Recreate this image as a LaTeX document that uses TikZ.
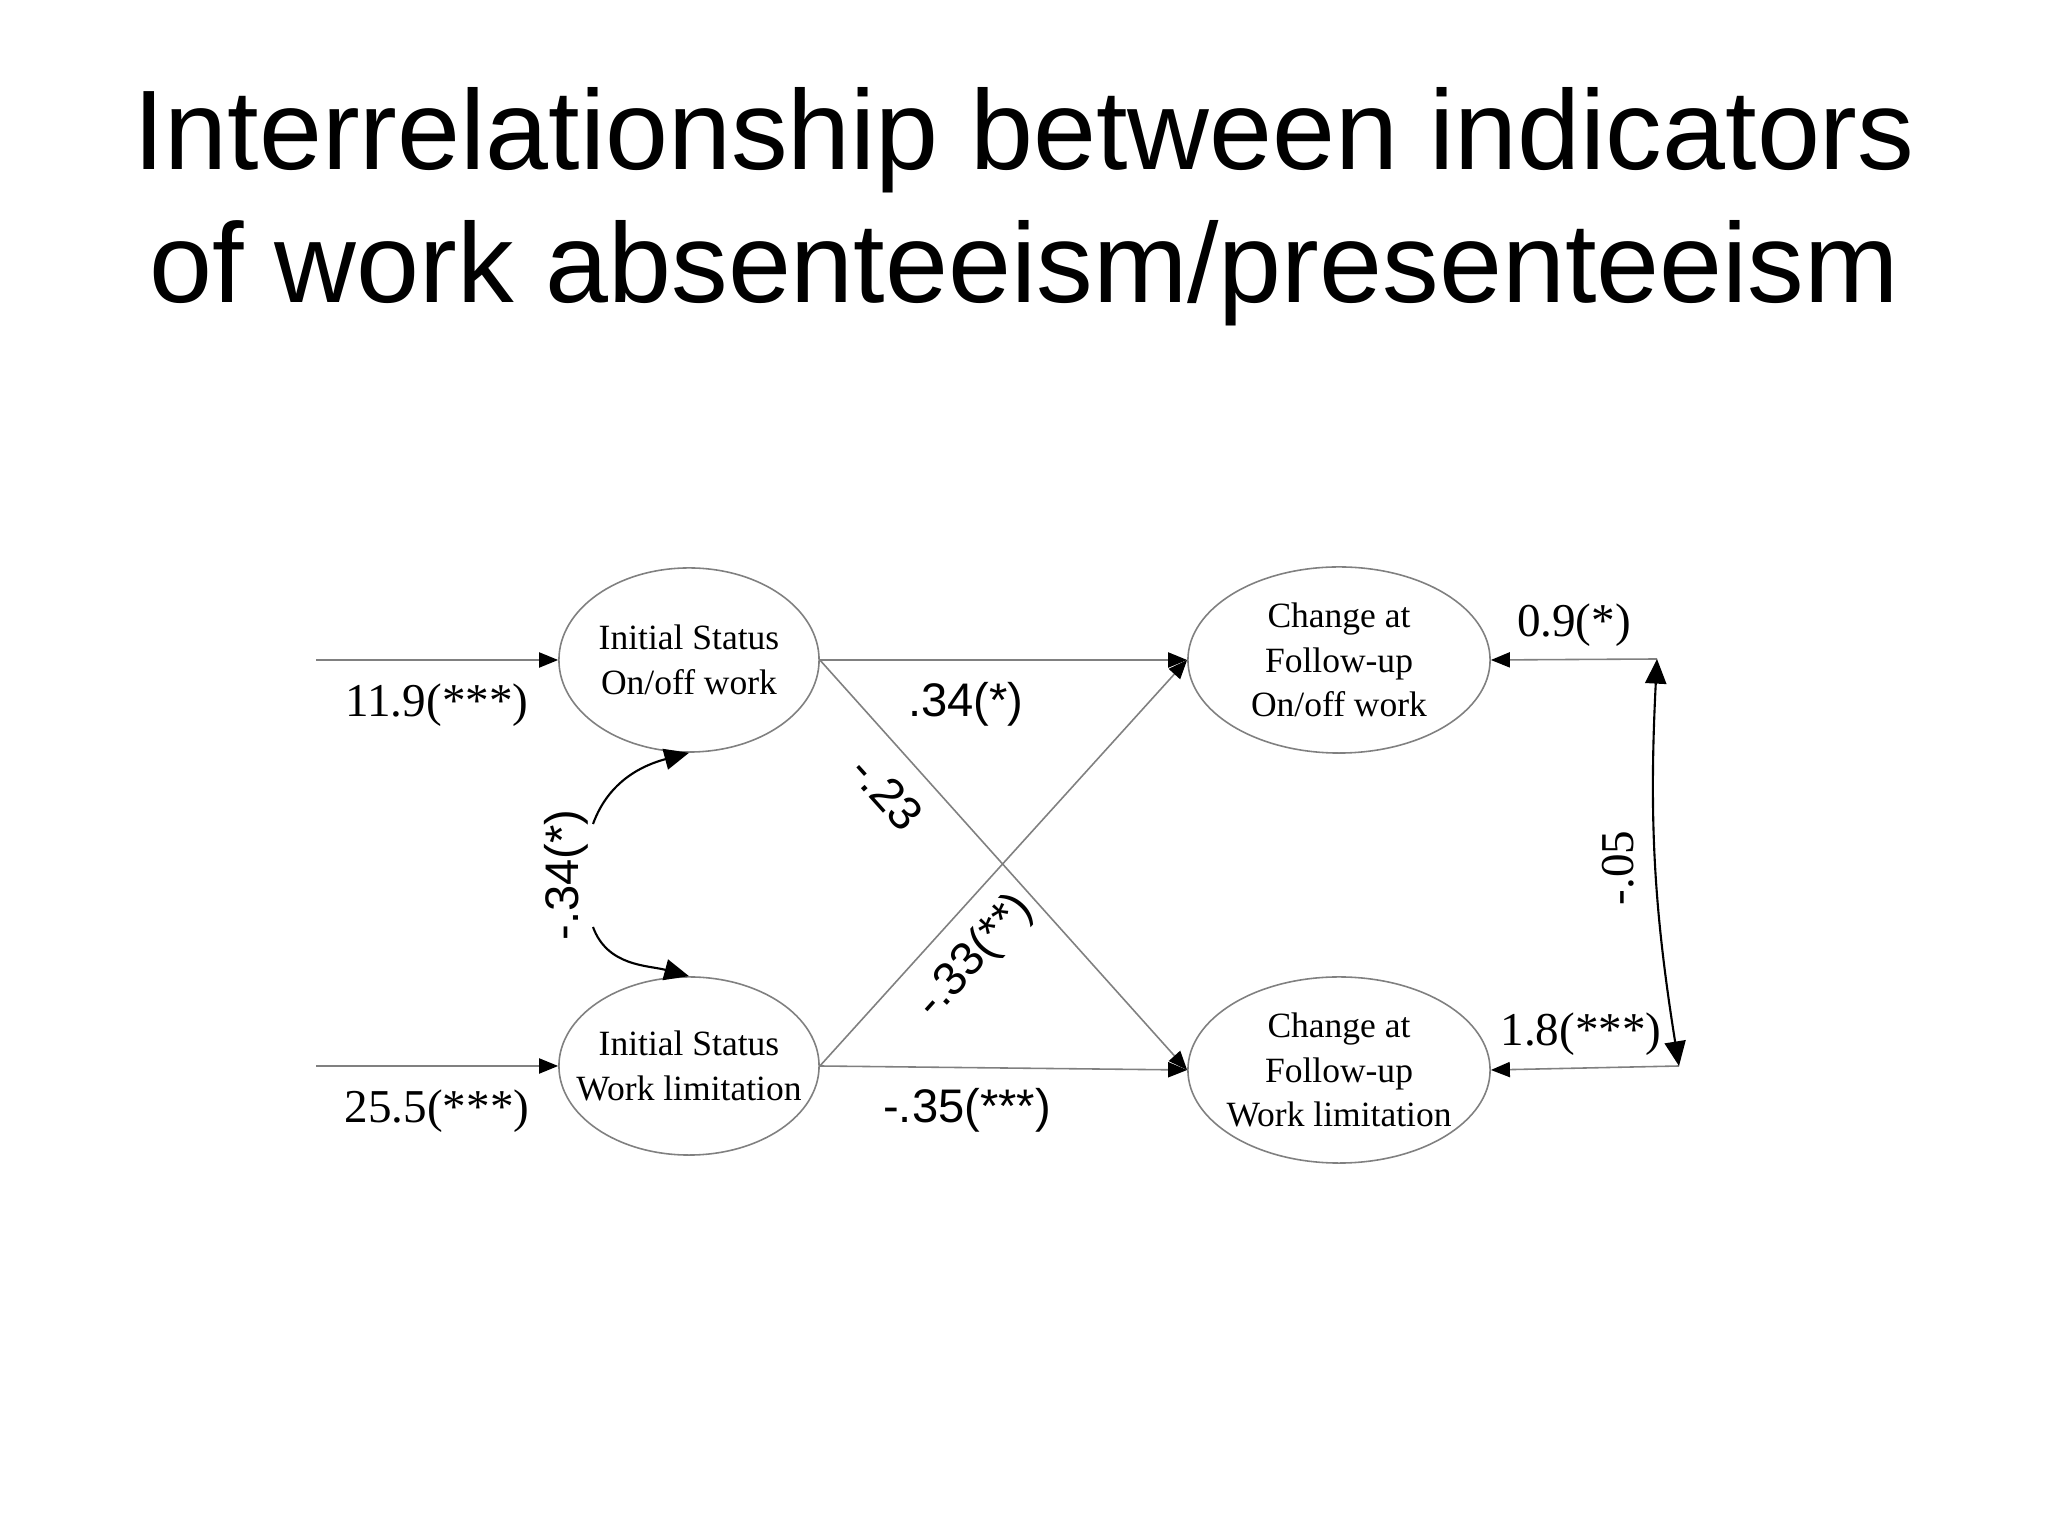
\documentclass[tikz,border=0pt]{standalone}
\usepackage{fontspec}
\setmainfont{Liberation Serif}
\setsansfont{Liberation Sans}
\usetikzlibrary{shapes.geometric,arrows.meta}

\begin{document}
\begin{tikzpicture}[x=0.01cm,y=0.01cm,
  latent/.style={ellipse,draw=gray,line width=0.45pt,inner sep=0pt},
  box/.style={align=center,font=\fontsize{10.1}{12.7}\selectfont},
  est/.style={font=\fontsize{13.4}{16}\selectfont,inner sep=0pt},
  estsf/.style={font=\sffamily\fontsize{13.4}{16}\selectfont,inner sep=0pt},
  reg/.style={draw=gray,line width=0.45pt,-{Triangle[color=black,length=5.4pt,width=4.3pt]}},
  cov/.style={draw=black,line width=0.6pt,{Triangle[length=7pt,width=6pt]}-{Triangle[length=7pt,width=6pt]}},
  covtip/.style={draw=black,line width=0.6pt,-{Triangle[length=7pt,width=6pt]}}]
  \fill[white] (0,0) rectangle (2048,1536);
  \useasboundingbox (0,0) rectangle (2048,1536);

  % title
  \node[anchor=base,font=\sffamily\fontsize{32.2}{38}\selectfont] (title1) at (1024,1366) {Interrelationship between indicators};
  \node[anchor=base,font=\sffamily\fontsize{32.2}{38}\selectfont] (title2) at (1024,1233) {of work absenteeism/presenteeism};

  % latent factors
  \node[latent,minimum width=2.6cm,minimum height=1.84cm,label={[box]center:{Initial Status\\On/off work}}] (on0) at (689,876) {};
  \node[latent,minimum width=2.6cm,minimum height=1.78cm,label={[box]center:{Initial Status\\Work limitation}}] (wl0) at (689,470) {};
  \node[latent,minimum width=3.02cm,minimum height=1.86cm,label={[box]center:{Change at\\Follow-up\\On/off work}}] (on1) at (1339,876) {};
  \node[latent,minimum width=3.02cm,minimum height=1.86cm,label={[box]center:{Change at\\Follow-up\\Work limitation}}] (wl1) at (1339,466) {};

  \coordinate (in0) at (316,876);
  \coordinate (in1) at (316,470);
  \coordinate (r0) at (1657,877);
  \coordinate (r1) at (1679,470);
  \coordinate (c0) at (593,712);
  \coordinate (c1) at (593,609);

  % paths
  \draw[reg] (in0) -- (on0);
  \draw[reg] (in1) -- (wl0);
  \draw[reg] (on0.east) -- (on1.west);
  \draw[reg] (on0.east) -- (wl1.west);
  \draw[reg] (wl0.east) -- (on1.west);
  \draw[reg] (wl0.east) -- (wl1.west);
  \draw[reg] (r0) -- (on1.east);
  \draw[reg] (r1) -- (wl1.east);
  \draw[cov] (r0) to[bend right=6] (r1);
  \draw[covtip] (c0) to[out=70,in=195] (on0.south);
  \draw[covtip] (c1) to[out=-70,in=165] (wl0.north);

  % estimates
  \node[est,anchor=base] (i0) at (437,819) {11.9(***)};
  \node[est,anchor=base] (i1) at (437,413) {25.5(***)};
  \node[estsf,anchor=base] (b0) at (966,819) {.34(*)};
  \node[estsf,anchor=base] (b3) at (967,413) {-.35(***)};
  \node[estsf,rotate=-48] (b1) at (887,743) {-.23};
  \node[estsf,rotate=48] (b2) at (975,579) {-.33(**)};
  \node[estsf,rotate=90] (c01) at (566,661) {-.34(*)};
  \node[est,anchor=base] (v0) at (1574,899) {0.9(*)};
  \node[est,anchor=base] (v1) at (1581,490) {1.8(***)};
  \node[est,rotate=90] (r01) at (1618,668) {-.05};
\end{tikzpicture}
\end{document}
